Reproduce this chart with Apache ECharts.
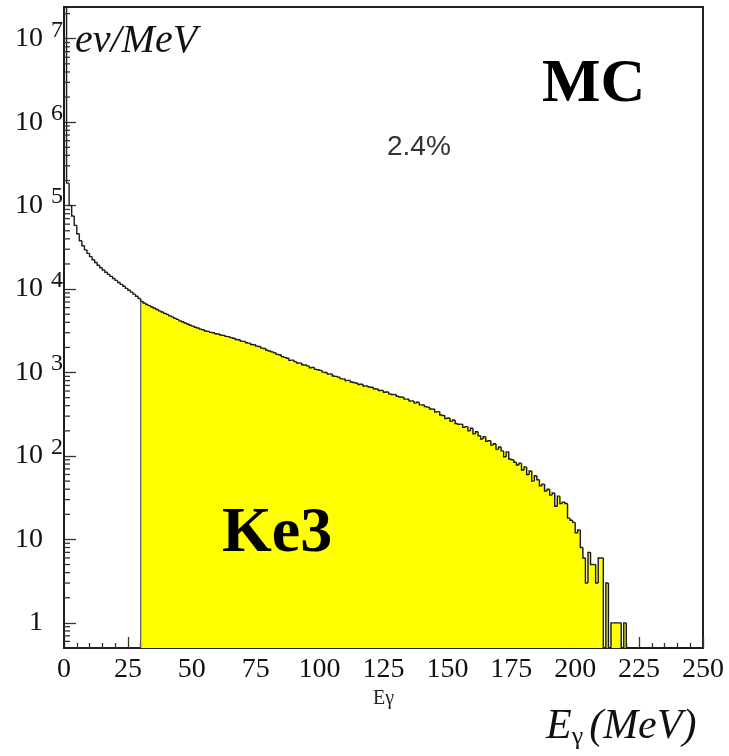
<!DOCTYPE html>
<html>
<head>
<meta charset="utf-8">
<script src="https://cdn.jsdelivr.net/npm/echarts@6/dist/echarts.min.js"></script>
<style>
html,body{margin:0;padding:0;background:#fff;}
#chart{width:729px;height:756px;}
</style>
</head>
<body>
<div id="chart"></div>
<script>
// ---- data (events per MeV, 1 MeV bins starting at 0 MeV) ----
const binWidth = 1;
const fillFrom = 30; // Ke3 selection: E_gamma > 30 MeV
const counts = [
  30000000, 186000, 100000, 75000, 58000, 46000, 38000, 33000, 29500, 26800,
  24500, 22500, 20800, 19300, 18000, 16900, 15900, 15000, 14200, 13400,
  12700, 12000, 11400, 10800, 10200, 9700, 9200, 8700, 8200, 7700,
  7100, 6820, 6540, 6330, 6100, 5890, 5700, 5480, 5320, 5120,
  4970, 4780, 4640, 4460, 4330, 4160, 4060, 3920, 3820, 3690,
  3600, 3490, 3420, 3310, 3260, 3150, 3110, 3030, 3000, 2920,
  2900, 2820, 2790, 2710, 2690, 2620, 2580, 2490, 2470, 2380,
  2360, 2270, 2250, 2170, 2150, 2070, 2050, 1960, 1940, 1850,
  1810, 1770, 1720, 1650, 1630, 1550, 1520, 1480, 1400, 1410,
  1350, 1300, 1300, 1240, 1230, 1200, 1140, 1150, 1090, 1080,
  1060, 1010, 1000, 960, 960, 910, 900, 880, 845, 840,
  800, 805, 770, 760, 750, 720, 725, 690, 690, 670,
  665, 640, 635, 610, 610, 580, 585, 555, 545, 545,
  520, 510, 505, 480, 480, 455, 455, 430, 440, 410,
  410, 390, 385, 365, 365, 335, 340, 310, 305, 280,
  285, 260, 270, 245, 240, 240, 220, 225, 200, 215,
  185, 195, 175, 160, 170, 150, 152, 135, 140, 120,
  128, 115, 98, 112, 92, 90, 84, 78, 82, 68,
  74, 60, 66, 50, 58, 52, 44, 46, 38, 40,
  34, 36, 25, 33, 27, 28, 27, 18, 17, 16,
  12, 13, 8, 6, 3, 7, 5, 5, 3, 6,
  6, 0, 3, 0, 1, 1, 1, 1, 0, 1,
  0, 0, 0, 0, 0, 0, 0, 0, 0, 0,
  0, 0, 0, 0, 0, 0, 0, 0, 0, 0,
  0, 0, 0, 0, 0, 0, 0, 0, 0, 0
];
const xMin = 0, xMax = 250, xStep = 25;
const yMin = 0.5, yMax = 2.4e7;
const yMinorMultipliers = [2, 3, 4, 5, 6, 7, 8, 9];
const yDecades = [-1, 0, 1, 2, 3, 4, 5, 6, 7];

const histData = counts.map((v, i) => [i * binWidth, v, i > 0 ? counts[i - 1] : 0]);
const minorTickVals = [];
yDecades.forEach(k => yMinorMultipliers.forEach(m => {
  const v = m * Math.pow(10, k);
  if (v > yMin && v < yMax) minorTickVals.push([xMin, v]);
}));

const SERIF = '"Liberation Serif", "DejaVu Serif", serif';
const INK = '#1a1a1a';

const chart = echarts.init(document.getElementById('chart'), null, {renderer: 'canvas'});

function decade(v) {
  const k = Math.round(Math.log10(v));
  return Math.abs(v - Math.pow(10, k)) > 1e-6 * v ? null : k;
}

function fillItem(params, api) {
  const E = api.value(0), v = api.value(1);
  if (E < fillFrom || !(v > 0)) return null;
  const cs = params.coordSys;
  const bottom = cs.y + cs.height;
  const p0 = api.coord([E, v]);
  const p1 = api.coord([E + binWidth, v]);
  const top = Math.max(p0[1], cs.y);
  return {
    type: 'rect',
    shape: {x: p0[0], y: top, width: p1[0] - p0[0] + 0.7, height: bottom - top},
    style: {fill: '#ffff00'}
  };
}

function outlineItem(params, api) {
  const E = api.value(0), v = api.value(1), prev = api.value(2);
  const cs = params.coordSys;
  const bottom = cs.y + cs.height;
  const yOf = val => val > 0 ? Math.max(api.coord([E, val])[1], cs.y) : bottom;
  const x0 = api.coord([E, yMin])[0];
  const x1 = api.coord([E + binWidth, yMin])[0];
  const yv = yOf(v), yp = yOf(prev);
  const children = [{
    type: 'polyline',
    shape: {points: [[x0, yp], [x0, yv], [x1, yv]]},
    style: {stroke: INK, lineWidth: 1.4, fill: null, lineJoin: 'miter'}
  }];
  if (E === fillFrom) {
    children.push({
      type: 'line',
      shape: {x1: x0, y1: bottom, x2: x0, y2: yv},
      style: {stroke: '#555', lineWidth: 1.2}
    });
  }
  return {type: 'group', children};
}

function minorTickItem(params, api) {
  const p = api.coord([api.value(0), api.value(1)]);
  return {
    type: 'line',
    shape: {x1: p[0], y1: p[1], x2: p[0] + 6, y2: p[1]},
    style: {stroke: '#333', lineWidth: 1.3}
  };
}

const logAxisBase = {
  type: 'log', logBase: 10, min: yMin, max: yMax, splitNumber: 8, gridIndex: 0,
  position: 'left', offset: 0, splitLine: {show: false}
};

const option = {
  animation: false,
  backgroundColor: '#ffffff',
  grid: {
    left: 64, right: 26, top: 7, bottom: 108,
    show: true, borderColor: '#222', borderWidth: 2, backgroundColor: 'transparent',
    containLabel: false, outerBoundsMode: 'none'
  },
  xAxis: {
    type: 'value', min: xMin, max: xMax, interval: xStep,
    name: 'Eγ', nameLocation: 'middle', nameGap: 41,
    nameTextStyle: {fontFamily: SERIF, fontSize: 20, color: '#222'},
    axisLine: {show: true, lineStyle: {color: '#222', width: 2}},
    axisTick: {show: true, inside: true, length: 11, lineStyle: {color: '#333', width: 1.3}},
    minorTick: {show: true, splitNumber: 5, length: 5, lineStyle: {color: '#333', width: 1.3}},
    splitLine: {show: false},
    axisLabel: {fontFamily: SERIF, fontSize: 28, color: '#111', margin: 8}
  },
  yAxis: [
    Object.assign({}, logAxisBase, {
      axisLine: {show: true, lineStyle: {color: '#222', width: 2}},
      axisTick: {show: true, inside: true, length: 12, lineStyle: {color: '#333', width: 1.3}},
      axisLabel: {
        margin: 21, showMinLabel: false, showMaxLabel: false,
        fontFamily: SERIF, fontSize: 28, color: '#111',
        formatter: v => { const k = decade(v); return k === null ? '' : (k === 0 ? '1' : '10'); }
      }
    }),
    Object.assign({}, logAxisBase, {
      axisLine: {show: false}, axisTick: {show: false},
      axisLabel: {
        margin: 1, showMinLabel: false, showMaxLabel: false,
        fontFamily: SERIF, fontSize: 24, color: '#111',
        verticalAlign: 'bottom', lineHeight: 17,
        formatter: v => { const k = decade(v); return (k === null || k < 2) ? '' : String(k); }
      }
    })
  ],
  graphic: [
    {type: 'text', left: 75, top: 21, z: 100, style: {text: 'ev/MeV', font: 'italic 40px ' + SERIF, fill: '#111'}},
    {type: 'text', left: 542, top: 54, z: 100, style: {text: 'MC', font: 'bold 62px ' + SERIF, fill: '#000'}},
    {type: 'text', left: 387, top: 133, z: 100, style: {text: '2.4%', font: '28px "Liberation Sans", Arial, sans-serif', fill: '#333'}},
    {type: 'text', left: 222, top: 502, z: 100, style: {text: 'Ke3', font: 'bold 64px ' + SERIF, fill: '#000'}},
    {type: 'text', left: 546, top: 690, z: 100, style: {
      text: '{e|E}{g|γ}{r|(MeV)}',
      rich: {
        e: {font: 'italic 42px ' + SERIF, fill: '#111', verticalAlign: 'top', lineHeight: 44},
        g: {font: '26px ' + SERIF, fill: '#111', verticalAlign: 'bottom', lineHeight: 26, padding: [34, 6, 0, 0]},
        r: {font: 'italic 42px ' + SERIF, fill: '#111', verticalAlign: 'top', lineHeight: 44}
      }
    }}
  ],
  series: [
    {type: 'custom', name: 'fill', renderItem: fillItem, data: histData, encode: {x: 0, y: 1}, z: 1, silent: true},
    {type: 'custom', name: 'outline', renderItem: outlineItem, data: histData, encode: {x: 0, y: 1}, z: 3, silent: true},
    {type: 'custom', name: 'yMinorTicks', renderItem: minorTickItem, data: minorTickVals, encode: {x: 0, y: 1}, z: 4, silent: true}
  ]
};
chart.setOption(option);
</script>
</body>
</html>
